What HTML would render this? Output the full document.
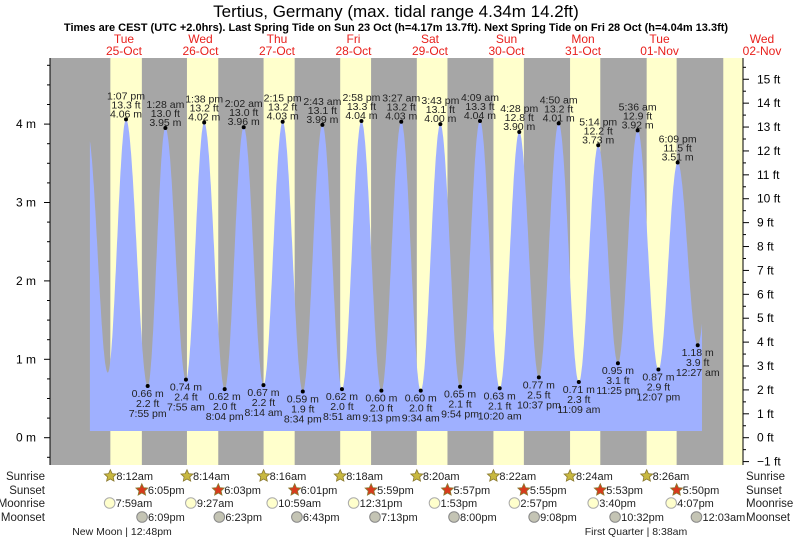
<!DOCTYPE html>
<html><head><meta charset="utf-8"><style>
body{margin:0;background:#fff}
svg{display:block;font-family:"Liberation Sans",sans-serif}
</style></head><body>
<svg id="c" width="793" height="539" viewBox="0 0 793 539"></svg>
<script>
const days=["Tue|25-Oct","Wed|26-Oct","Thu|27-Oct","Fri|28-Oct","Sat|29-Oct","Sun|30-Oct","Mon|31-Oct","Tue|01-Nov","Wed|02-Nov"];
const sunrise=["8:12am","8:14am","8:16am","8:18am","8:20am","8:22am","8:24am","8:26am","8:28am"];
const sunset=["6:05pm","6:03pm","6:01pm","5:59pm","5:57pm","5:55pm","5:53pm","5:50pm"];
const moonrise=["7:59am","9:27am","10:59am","12:31pm","1:53pm","2:57pm","3:40pm","4:07pm"];
const moonset=["6:09pm","6:23pm","6:43pm","7:13pm","8:00pm","9:08pm","10:32pm","12:03am"];
const moonsetDay=[0,1,2,3,4,5,6,8];
const tideDay=[0,0,1,1,1,1,2,2,2,2,3,3,3,3,4,4,4,4,5,5,5,5,6,6,6,6,7,7,7,8];
const tideTime=["1:07 pm","7:55 pm","1:28 am","7:55 am","1:38 pm","8:04 pm","2:02 am","8:14 am","2:15 pm","8:34 pm","2:43 am","8:51 am","2:58 pm","9:13 pm","3:27 am","9:34 am","3:43 pm","9:54 pm","4:09 am","10:20 am","4:28 pm","10:37 pm","4:50 am","11:09 am","5:14 pm","11:25 pm","5:36 am","12:07 pm","6:09 pm","12:27 am"];
const tideM=[4.06,0.66,3.95,0.74,4.02,0.62,3.96,0.67,4.03,0.59,3.99,0.62,4.04,0.60,4.03,0.60,4.00,0.65,4.04,0.63,3.90,0.77,4.01,0.71,3.73,0.95,3.92,0.87,3.51,1.18];
const yTicksM=[0,1,2,3,4];
const yTicksFt=[-1,0,1,2,3,4,5,6,7,8,9,10,11,12,13,14,15];

const S=document.getElementById('c'),NS="http://www.w3.org/2000/svg";
function el(tag,a,txt){const e=document.createElementNS(NS,tag);for(const k in a)e.setAttribute(k,a[k]);if(txt!=null)e.textContent=txt;S.appendChild(e);return e;}
function hrs(s){const m=s.match(/(\d+):(\d+)\s*(am|pm)/);let h=+m[1]%12;if(m[3]=="pm")h+=12;return h+ +m[2]/60;}
const X0=84.2,PXH=3.188,Y0=437.7,PXM=78.4;
const x=t=>X0+t*PXH, y=m=>Y0-m*PXM, yft=f=>Y0-f*0.3048*PXM;
const L=50,R=743,T=58,B=465;

let bg=el('rect',{x:L,y:T,width:R-L,height:B-T,fill:'#a6a6a6'});

sunrise.forEach((s,i)=>{const a=x(i*24+hrs(s));const b=i<sunset.length?x(i*24+hrs(sunset[i])):R;
 const r=el('rect',{x:a,y:T,width:Math.min(b,R)-a,height:B-T,fill:'#ffffcc'});
 });

const ext=[{t:1.0,m:3.9},{t:7.4,m:0.83}];
tideM.forEach((m,i)=>ext.push({t:tideDay[i]*24+hrs(tideTime[i]),m:m}));
ext.push({t:198.6,m:3.6});
function lvl(t){for(let i=0;i<ext.length-1;i++){const a=ext[i],b=ext[i+1];if(t>=a.t&&t<=b.t){const f=(t-a.t)/(b.t-a.t);return a.m+(b.m-a.m)*(1-Math.cos(Math.PI*f))/2;}}return ext[ext.length-1].m;}
let t0=1.8,t1=193.8,yb=431,pts=[[x(t0),yb]];
for(let t=t0;t<=t1;t+=0.1)pts.push([x(t),y(lvl(t))]);
pts.push([x(t1),y(lvl(t1))],[x(t1),yb]);
const fill=el('polygon',{points:pts.map(p=>p[0].toFixed(1)+','+p[1].toFixed(1)).join(' '),fill:'#9fb0ff'});


tideM.forEach((m,i)=>{const t=tideDay[i]*24+hrs(tideTime[i]);const px=x(t),py=y(m);const ft=(m/0.3048).toFixed(1)+' ft';
 const d=el('circle',{cx:px,cy:py,r:2,fill:'#000'});
 const hi=m>2;const lines=hi?[tideTime[i],ft,m.toFixed(2)+' m']:[m.toFixed(2)+' m',ft,tideTime[i]];
 const off=hi?[-20,-11,-2]:[11,21,31];
 lines.forEach((s,k)=>{const e=el('text',{x:px,y:py+off[k],'font-size':10.5,'text-anchor':'middle',fill:'#222'},s);
 });});

el('line',{x1:L,y1:T,x2:L,y2:B,stroke:'#000'});
el('line',{x1:R,y1:T,x2:R,y2:B,stroke:'#000'});
for(let v=-0.25;v<=4.9;v+=0.25){const yy=y(v);if(yy<T||yy>B)continue;el('line',{x1:L-(Math.abs(v-Math.round(v))<0.01?6:3),y1:yy,x2:L,y2:yy,stroke:'#000'});}
yTicksM.forEach(v=>{const e=el('text',{x:36,y:y(v)+4,'font-size':12,'text-anchor':'end'},v+' m');});
for(let f=-1;f<=15.5;f+=0.5){const yy=yft(f);if(yy<T||yy>B)continue;el('line',{x1:R,y1:yy,x2:R+(f%1==0?6:3),y2:yy,stroke:'#000'});}
yTicksFt.forEach(f=>{const e=el('text',{x:757,y:yft(f)+4,'font-size':12},(f<0?'\u2212'+(-f):f)+' ft');});

let e=el('text',{x:396,y:17,'font-size':17,'text-anchor':'middle'},'Tertius, Germany (max. tidal range 4.34m 14.2ft)');
e=el('text',{x:396,y:31,'font-size':11,'font-weight':'bold','text-anchor':'middle'},'Times are CEST (UTC +2.0hrs). Last Spring Tide on Sun 23 Oct (h=4.17m 13.7ft). Next Spring Tide on Fri 28 Oct (h=4.04m 13.3ft)');
days.forEach((d,i)=>{const cx=i<8?x(i*24+12)+1.5:762;const p=d.split('|');
 e=el('text',{x:cx,y:43,'font-size':12,'text-anchor':'middle',fill:'#e8201c'},p[0]);
 e=el('text',{x:cx,y:55,'font-size':12,'text-anchor':'middle',fill:'#e8201c'},p[1]);});

const rows=[['Sunrise',480],['Sunset',494],['Moonrise',507],['Moonset',521]];
rows.forEach(r=>{e=el('text',{x:45,y:r[1],'font-size':11.5,'text-anchor':'end',fill:'#222'},r[0]);
 e=el('text',{x:746,y:r[1],'font-size':11.5,fill:'#222'},r[0]);});
function star(cx,cy,fc){let p=[];for(let k=0;k<10;k++){const a=-Math.PI/2+k*Math.PI/5,rr=k%2?3:6.3;p.push((cx+rr*Math.cos(a)).toFixed(1)+','+(cy+rr*Math.sin(a)).toFixed(1));}return el('polygon',{points:p.join(' '),fill:fc,stroke:'#8a7a30','stroke-width':0.8});}
sunrise.slice(0,8).forEach((s,i)=>{const px=x(i*24+hrs(s));const st=star(px,476,'#c8b840');
 e=el('text',{x:px+6,y:480,'font-size':11,fill:'#222'},s);});
sunset.forEach((s,i)=>{const px=x(i*24+hrs(s));const st=star(px,490,'#d83a1c');
 e=el('text',{x:px+6,y:494,'font-size':11,fill:'#222'},s);});
moonrise.forEach((s,i)=>{const px=x(i*24+hrs(s));const c=el('circle',{cx:px,cy:503,r:5.3,fill:'#ffffcc',stroke:'#aaa'});
 e=el('text',{x:px+6,y:507,'font-size':11,fill:'#222'},s);});
moonset.forEach((s,i)=>{const px=x(moonsetDay[i]*24+hrs(s));const c=el('circle',{cx:px,cy:517,r:5.3,fill:'#c4c4b4',stroke:'#888'});
 e=el('text',{x:px+6,y:521,'font-size':11,fill:'#222'},s);});
e=el('text',{x:122,y:535,'font-size':10.5,'text-anchor':'middle',fill:'#222'},'New Moon | 12:48pm');
e=el('text',{x:636,y:535,'font-size':10.5,'text-anchor':'middle',fill:'#222'},'First Quarter | 8:38am');
</script>
</body></html>
